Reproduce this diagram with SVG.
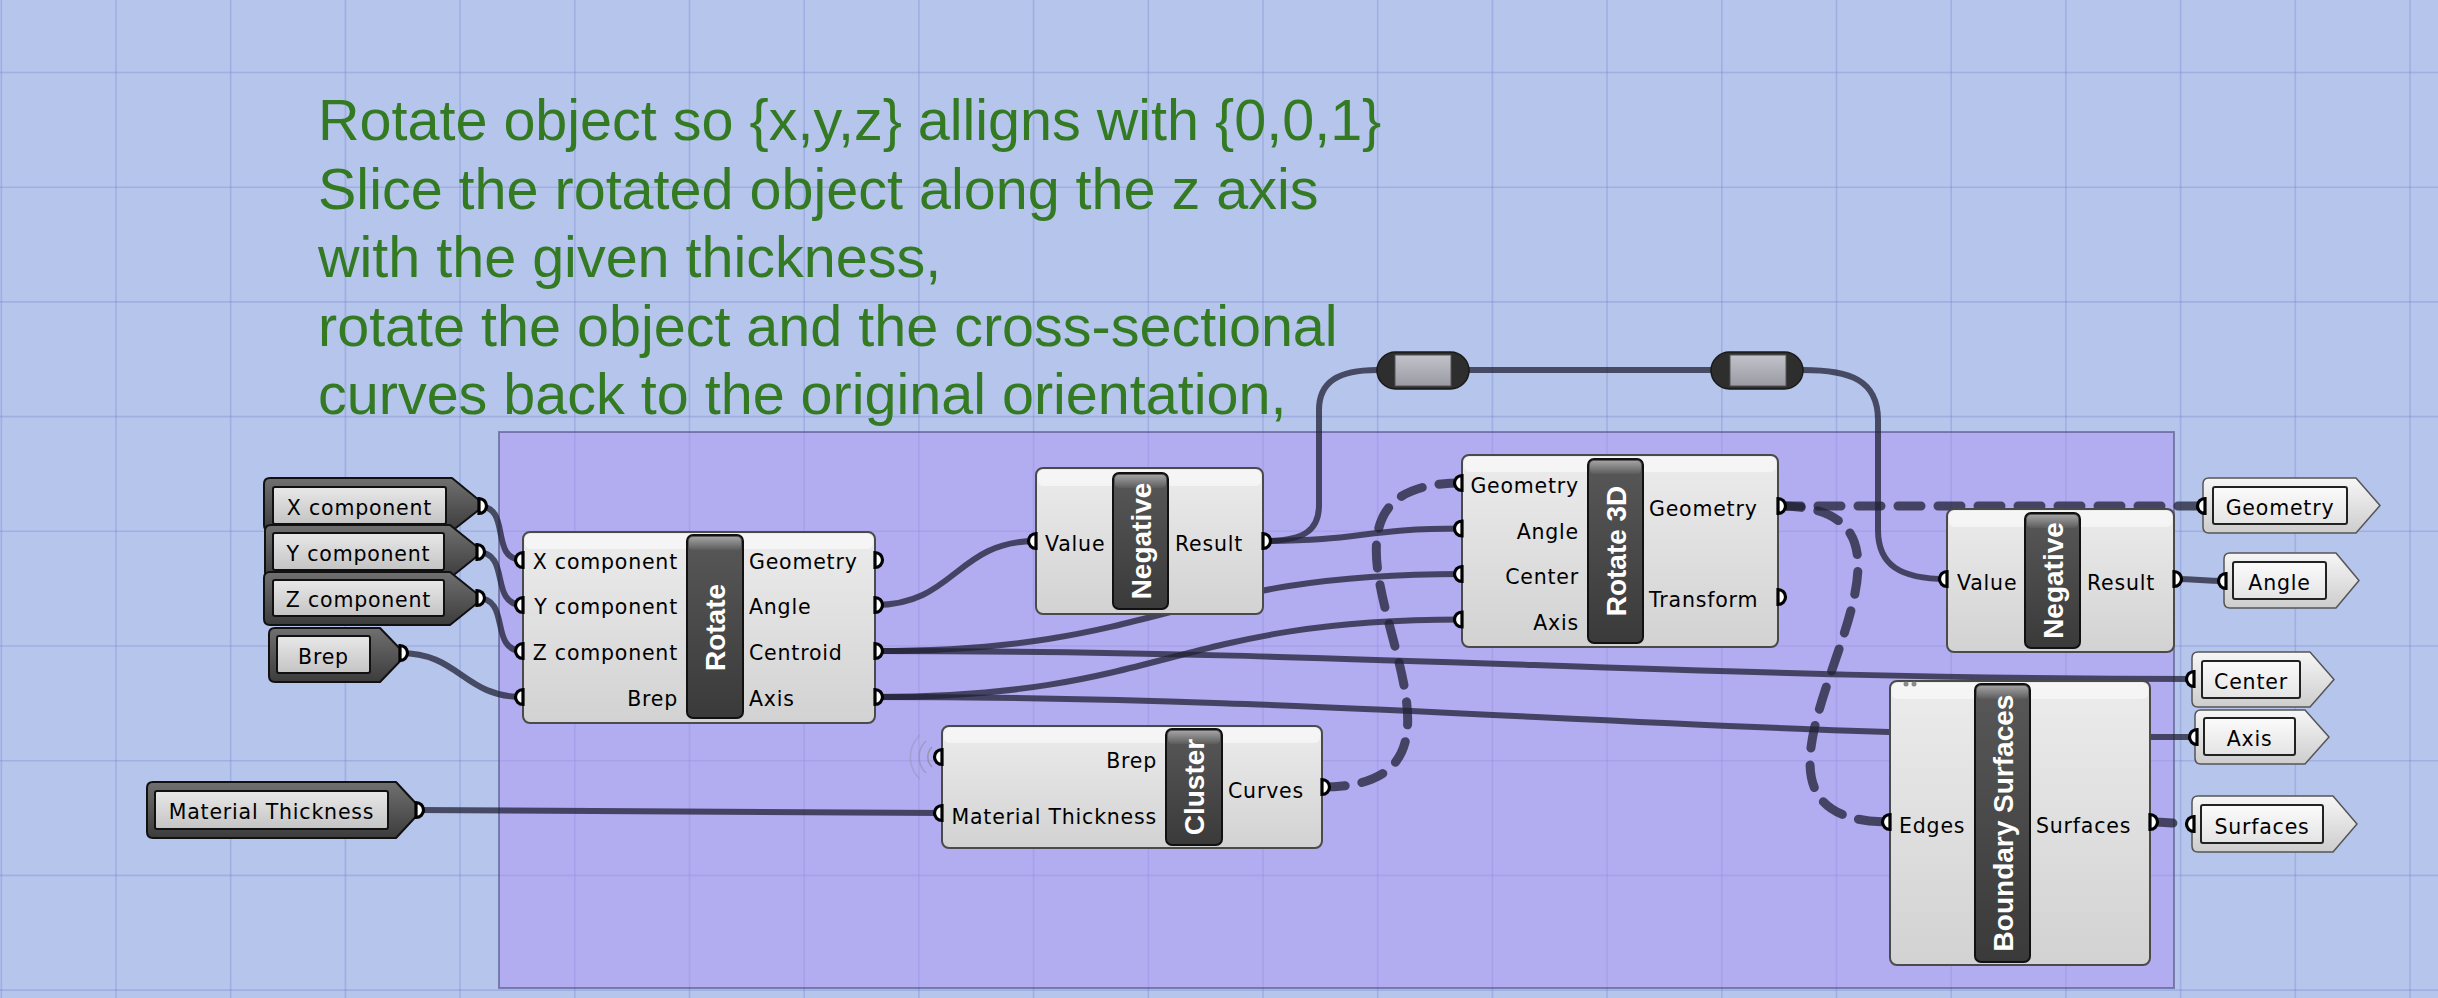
<svg xmlns="http://www.w3.org/2000/svg" xmlns:xlink="http://www.w3.org/1999/xlink" width="2438" height="998" viewBox="0 0 2438 998">
<style>
.lbl{font-family:"DejaVu Sans","Liberation Sans",sans-serif;font-size:20.5px;letter-spacing:0.8px;fill:#000}
.ttl{font-family:"Liberation Sans",Arial,sans-serif;font-weight:bold;font-size:28px;fill:#fff;text-anchor:middle}
.note{font-family:"Liberation Sans",Arial,sans-serif;font-size:57.5px;fill:#337a22}
.wire{fill:none;stroke:rgba(32,32,52,0.75);stroke-width:6;stroke-linecap:round}
.dash{fill:none;stroke:rgba(32,32,52,0.75);stroke-width:9;stroke-dasharray:23 17;stroke-linecap:round}
.box{fill:url(#gBox);stroke:#4a4a4a;stroke-width:2}
.band{fill:rgba(255,255,255,0.5)}
.bar{fill:url(#gBar);stroke:#111;stroke-width:2}
.bartop{fill:url(#gBarTop)}
.pd{fill:url(#gDark);stroke:#111;stroke-width:2;stroke-linejoin:round}
.pin{fill:url(#gPin);stroke:#111;stroke-width:2}
.pl{fill:url(#gLight);stroke:#555;stroke-width:1.5;stroke-linejoin:round}
.plin{fill:url(#gLin);stroke:#222;stroke-width:2}
.grid{stroke:rgba(95,110,195,0.25);stroke-width:1.6}
.relay{fill:#2e2e2e;stroke:#1a1a1a;stroke-width:1.5}
.relayin{fill:url(#gRelay);stroke:#555;stroke-width:1}
.wl{fill:none;stroke:#8a8a9a;stroke-width:1.5}
</style>
<defs>
<linearGradient id="gBox" x1="0" y1="0" x2="0" y2="1"><stop offset="0" stop-color="#ececec"/><stop offset="1" stop-color="#d2d2d2"/></linearGradient>
<linearGradient id="gBar" x1="0" y1="0" x2="0" y2="1"><stop offset="0" stop-color="#585858"/><stop offset="1" stop-color="#3a3a3a"/></linearGradient>
<linearGradient id="gBarTop" x1="0" y1="0" x2="0" y2="1"><stop offset="0" stop-color="#a2a2a2"/><stop offset="1" stop-color="#5c5c5c"/></linearGradient>
<linearGradient id="gDark" x1="0" y1="0" x2="0" y2="1"><stop offset="0" stop-color="#707070"/><stop offset="1" stop-color="#3c3c3c"/></linearGradient>
<linearGradient id="gPin" x1="0" y1="0" x2="0" y2="1"><stop offset="0" stop-color="#e8e8e8"/><stop offset="1" stop-color="#c4c4c4"/></linearGradient>
<linearGradient id="gLight" x1="0" y1="0" x2="0" y2="1"><stop offset="0" stop-color="#f6f6f6"/><stop offset="1" stop-color="#cdcdcd"/></linearGradient>
<linearGradient id="gLin" x1="0" y1="0" x2="0" y2="1"><stop offset="0" stop-color="#fbfbfb"/><stop offset="1" stop-color="#e4e4e4"/></linearGradient>
<linearGradient id="gRelay" x1="0" y1="0" x2="0" y2="1"><stop offset="0" stop-color="#c2c2ca"/><stop offset="1" stop-color="#9a9aa4"/></linearGradient>
<path id="pr" d="M0,-7.5a7.5,7.5 0 0 1 0,15z" fill="#fff" stroke="#000" stroke-width="3.2"/>
<path id="pl" d="M0,-7.5a7.5,7.5 0 0 0 0,15z" fill="#fff" stroke="#000" stroke-width="3.2"/>
</defs>

<rect x="0" y="0" width="2438" height="998" fill="#b6c5ec"/>
<g id="grid">
<path class="grid" d="M1.3,0V998M116,0V998M230.7,0V998M345.4,0V998M460.1,0V998M574.8,0V998M689.5,0V998M804.2,0V998M918.9,0V998M1033.6,0V998M1148.3,0V998M1263,0V998M1377.7,0V998M1492.4,0V998M1607.1,0V998M1721.8,0V998M1836.5,0V998M1951.2,0V998M2065.9,0V998M2180.6,0V998M2295.3,0V998M2410,0V998"/>
<path class="grid" d="M0,72.5H2438M0,187.2H2438M0,301.9H2438M0,416.6H2438M0,531.3H2438M0,646H2438M0,760.7H2438M0,875.4H2438M0,990.1H2438"/>
</g>

<g id="group">
<rect x="499" y="432" width="1675" height="556" fill="rgba(174,147,246,0.5)" stroke="rgba(70,70,120,0.55)" stroke-width="2"/>
</g>

<g id="note">
<text class="note" x="318" y="140">Rotate object so {x,y,z} alligns with {0,0,1}</text>
<text class="note" x="318" y="208.5">Slice the rotated object along the z axis</text>
<text class="note" x="318" y="277">with the given thickness,</text>
<text class="note" x="318" y="345.5">rotate the object and the cross-sectional</text>
<text class="note" x="318" y="414">curves back to the original orientation,</text>
</g>

<g id="connectors">
<path class="wire" d="M478,506 C513,506 488,560 523,560"/>
<path class="wire" d="M477,552 C512,552 488,605 523,605"/>
<path class="wire" d="M477,598 C512,598 488,651 523,651"/>
<path class="wire" d="M400,653 C460,653 463,697 523,697"/>
<path class="wire" d="M875,605 C955,605 956,541 1036,541"/>
<path class="wire" d="M1263,541 C1363,541 1362,528.5 1462,528.5"/>
<path class="wire" d="M1263,541 C1305,541 1319,530 1319,505 L1319,410 C1319,382 1338,370 1377,370"/>
<path class="wire" d="M1469,370 L1711,370"/>
<path class="wire" d="M1803,370 C1850,370 1878,380 1878,420 L1878,530 C1878,565 1900,579 1947,579"/>
<path class="wire" d="M875,651 C1165,651 1172,574 1462,574"/>
<path class="wire" d="M875,697 C1165,697 1172,619.5 1462,619.5"/>
<path class="wire" d="M875,651 C1375,651 1694,679 2194,679"/>
<path class="wire" d="M875,697 C1375,697 1697,737 2197,737"/>
<path class="wire" d="M2174,579 C2200,579 2200,581 2226,581"/>
<path class="wire" d="M416,810 C616,810 742,813 942,813"/>
<path class="dash" d="M1322,787 C1542,787 1242,483 1462,483"/>
<path class="dash" d="M1778,506 C1998,506 1670,822 1890,822"/>
<path class="dash" d="M1778,506 L2205,506"/>
<path class="dash" d="M2150,822 C2172,822 2172,824 2194,824"/>
</g>

<g id="relay1">
<rect class="relay" x="1377" y="352" width="92" height="37" rx="18.5"/>
<rect class="relayin" x="1395" y="355" width="56" height="31"/>
</g>
<g id="relay2">
<rect class="relay" x="1711" y="352" width="92" height="37" rx="18.5"/>
<rect class="relayin" x="1730" y="355" width="56" height="31"/>
</g>

<g id="p-x">
<path class="pd" d="M270,478 H452 L485,505 L452,531 H270 Q264,531 264,525 V484 Q264,478 270,478 Z"/>
<rect class="pin" x="273" y="487" width="173" height="37" rx="2"/>
<text class="lbl" x="359.5" y="515" text-anchor="middle">X component</text>
<use href="#pr" x="479" y="506"/>
</g>
<g id="p-y">
<path class="pd" d="M271,525 H450 L483,551.5 L450,578 H271 Q265,578 265,572 V531 Q265,525 271,525 Z"/>
<rect class="pin" x="273" y="533" width="171" height="37" rx="2"/>
<text class="lbl" x="358.5" y="561" text-anchor="middle">Y component</text>
<use href="#pr" x="477" y="552"/>
</g>
<g id="p-z">
<path class="pd" d="M270,572 H450 L483,598.5 L450,625 H270 Q264,625 264,619 V578 Q264,572 270,572 Z"/>
<rect class="pin" x="273" y="580" width="171" height="36" rx="2"/>
<text class="lbl" x="358.5" y="607" text-anchor="middle">Z component</text>
<use href="#pr" x="477" y="598"/>
</g>
<g id="p-brep">
<path class="pd" d="M275,628 H380 L406,655 L380,682 H275 Q269,682 269,676 V634 Q269,628 275,628 Z"/>
<rect class="pin" x="277" y="636" width="93" height="37" rx="2"/>
<text class="lbl" x="323.5" y="664" text-anchor="middle">Brep</text>
<use href="#pr" x="400" y="653"/>
</g>
<g id="p-thickness">
<path class="pd" d="M153,782 H396 L422,810 L396,838 H153 Q147,838 147,832 V788 Q147,782 153,782 Z"/>
<rect class="pin" x="155" y="791" width="233" height="38" rx="2"/>
<text class="lbl" x="271.5" y="819" text-anchor="middle">Material Thickness</text>
<use href="#pr" x="416" y="810"/>
</g>

<g id="rotate">
<rect class="box" x="523" y="532" width="352" height="191" rx="7"/>
<rect class="band" x="525" y="534" width="348" height="15" rx="5"/>
<rect class="bar" x="687" y="535" width="56" height="183" rx="6"/>
<rect class="bartop" x="689" y="537" width="52" height="13" rx="4"/>
<text class="ttl" transform="translate(725,627.5) rotate(-90)">Rotate</text>
<text class="lbl" x="678" y="569" text-anchor="end">X component</text>
<text class="lbl" x="678" y="614" text-anchor="end">Y component</text>
<text class="lbl" x="678" y="660" text-anchor="end">Z component</text>
<text class="lbl" x="678" y="706" text-anchor="end">Brep</text>
<text class="lbl" x="749" y="569">Geometry</text>
<text class="lbl" x="749" y="614">Angle</text>
<text class="lbl" x="749" y="660">Centroid</text>
<text class="lbl" x="749" y="706">Axis</text>
<use href="#pl" x="523" y="560"/><use href="#pl" x="523" y="605"/><use href="#pl" x="523" y="651"/><use href="#pl" x="523" y="697"/>
<use href="#pr" x="875" y="560"/><use href="#pr" x="875" y="605"/><use href="#pr" x="875" y="651"/><use href="#pr" x="875" y="697"/>
</g>

<g id="negative1">
<rect class="box" x="1036" y="468" width="227" height="146" rx="7"/>
<rect class="band" x="1038" y="470" width="223" height="16" rx="5"/>
<rect class="bar" x="1113" y="473" width="55" height="136" rx="6"/>
<rect class="bartop" x="1115" y="475" width="51" height="13" rx="4"/>
<text class="ttl" transform="translate(1150.5,541) rotate(-90)">Negative</text>
<text class="lbl" x="1045" y="551">Value</text>
<text class="lbl" x="1175" y="551">Result</text>
<use href="#pl" x="1036" y="541"/>
<use href="#pr" x="1263" y="541"/>
</g>

<g id="rotate3d">
<rect class="box" x="1462" y="455" width="316" height="192" rx="7"/>
<rect class="band" x="1464" y="457" width="312" height="15" rx="5"/>
<rect class="bar" x="1588" y="459" width="55" height="184" rx="6"/>
<rect class="bartop" x="1590" y="461" width="51" height="13" rx="4"/>
<text class="ttl" transform="translate(1625.5,551) rotate(-90)">Rotate 3D</text>
<text class="lbl" x="1579" y="493" text-anchor="end">Geometry</text>
<text class="lbl" x="1579" y="538.5" text-anchor="end">Angle</text>
<text class="lbl" x="1579" y="584" text-anchor="end">Center</text>
<text class="lbl" x="1579" y="629.5" text-anchor="end">Axis</text>
<text class="lbl" x="1649" y="516">Geometry</text>
<text class="lbl" x="1649" y="607">Transform</text>
<use href="#pl" x="1462" y="483"/><use href="#pl" x="1462" y="528.5"/><use href="#pl" x="1462" y="574"/><use href="#pl" x="1462" y="619.5"/>
<use href="#pr" x="1778" y="506"/><use href="#pr" x="1778" y="597"/>
</g>

<g id="negative2">
<rect class="box" x="1947" y="509" width="227" height="143" rx="7"/>
<rect class="band" x="1949" y="511" width="223" height="16" rx="5"/>
<rect class="bar" x="2025" y="513" width="55" height="135" rx="6"/>
<rect class="bartop" x="2027" y="515" width="51" height="13" rx="4"/>
<text class="ttl" transform="translate(2062.5,580.5) rotate(-90)">Negative</text>
<text class="lbl" x="1957" y="590">Value</text>
<text class="lbl" x="2087" y="590">Result</text>
<use href="#pl" x="1947" y="579"/>
<use href="#pr" x="2174" y="579"/>
</g>

<g id="cluster">
<path class="wl" d="M932,747 A14,14 0 0 0 932,767" opacity="0.7"/>
<path class="wl" d="M926,741 A22,22 0 0 0 926,773" opacity="0.5"/>
<path class="wl" d="M920,735 A30,30 0 0 0 920,779" opacity="0.35"/>
<rect class="box" x="942" y="726" width="380" height="122" rx="7"/>
<rect class="band" x="944" y="728" width="376" height="15" rx="5"/>
<rect class="bar" x="1166" y="729" width="56" height="116" rx="6"/>
<rect class="bartop" x="1168" y="731" width="52" height="13" rx="4"/>
<text class="ttl" transform="translate(1204,787) rotate(-90)">Cluster</text>
<text class="lbl" x="1157" y="768" text-anchor="end">Brep</text>
<text class="lbl" x="1157" y="824" text-anchor="end">Material Thickness</text>
<text class="lbl" x="1228" y="798">Curves</text>
<use href="#pl" x="942" y="757"/><use href="#pl" x="942" y="813"/>
<use href="#pr" x="1322" y="787"/>
</g>

<g id="boundary">
<rect class="box" x="1890" y="681" width="260" height="284" rx="7"/>
<rect class="band" x="1892" y="683" width="256" height="16" rx="5"/>
<circle cx="1906" cy="684" r="2.5" fill="#8a8a8a"/><circle cx="1914" cy="684" r="2.5" fill="#8a8a8a"/>
<rect class="bar" x="1975" y="684" width="55" height="278" rx="6"/>
<rect class="bartop" x="1977" y="686" width="51" height="13" rx="4"/>
<text class="ttl" transform="translate(2012.5,823) rotate(-90)">Boundary Surfaces</text>
<text class="lbl" x="1899" y="833">Edges</text>
<text class="lbl" x="2036" y="833">Surfaces</text>
<use href="#pl" x="1890" y="822"/>
<use href="#pr" x="2150" y="822"/>
</g>

<g id="o-geometry">
<path class="pl" d="M2209,478 H2356 L2380,505.5 L2356,533 H2209 Q2203,533 2203,527 V484 Q2203,478 2209,478 Z"/>
<rect class="plin" x="2213" y="487" width="134" height="37" rx="2"/>
<text class="lbl" x="2280" y="515" text-anchor="middle">Geometry</text>
<use href="#pl" x="2205" y="506"/>
</g>
<g id="o-angle">
<path class="pl" d="M2230,553 H2336 L2359,580.5 L2336,608 H2230 Q2224,608 2224,602 V559 Q2224,553 2230,553 Z"/>
<rect class="plin" x="2233" y="562" width="93" height="37" rx="2"/>
<text class="lbl" x="2279.5" y="590" text-anchor="middle">Angle</text>
<use href="#pl" x="2226" y="581"/>
</g>
<g id="o-center">
<path class="pl" d="M2198,652 H2310 L2334,679.5 L2310,707 H2198 Q2192,707 2192,701 V658 Q2192,652 2198,652 Z"/>
<rect class="plin" x="2202" y="661" width="98" height="37" rx="2"/>
<text class="lbl" x="2251" y="689" text-anchor="middle">Center</text>
<use href="#pl" x="2194" y="679"/>
</g>
<g id="o-axis">
<path class="pl" d="M2201,710 H2305 L2329,737 L2305,764 H2201 Q2195,764 2195,758 V716 Q2195,710 2201,710 Z"/>
<rect class="plin" x="2204" y="718" width="91" height="37" rx="2"/>
<text class="lbl" x="2249.5" y="746" text-anchor="middle">Axis</text>
<use href="#pl" x="2197" y="737"/>
</g>
<g id="o-surfaces">
<path class="pl" d="M2198,796 H2333 L2357,824 L2333,852 H2198 Q2192,852 2192,846 V802 Q2192,796 2198,796 Z"/>
<rect class="plin" x="2201" y="805" width="122" height="38" rx="2"/>
<text class="lbl" x="2262" y="834" text-anchor="middle">Surfaces</text>
<use href="#pl" x="2194" y="824"/>
</g>
</svg>
